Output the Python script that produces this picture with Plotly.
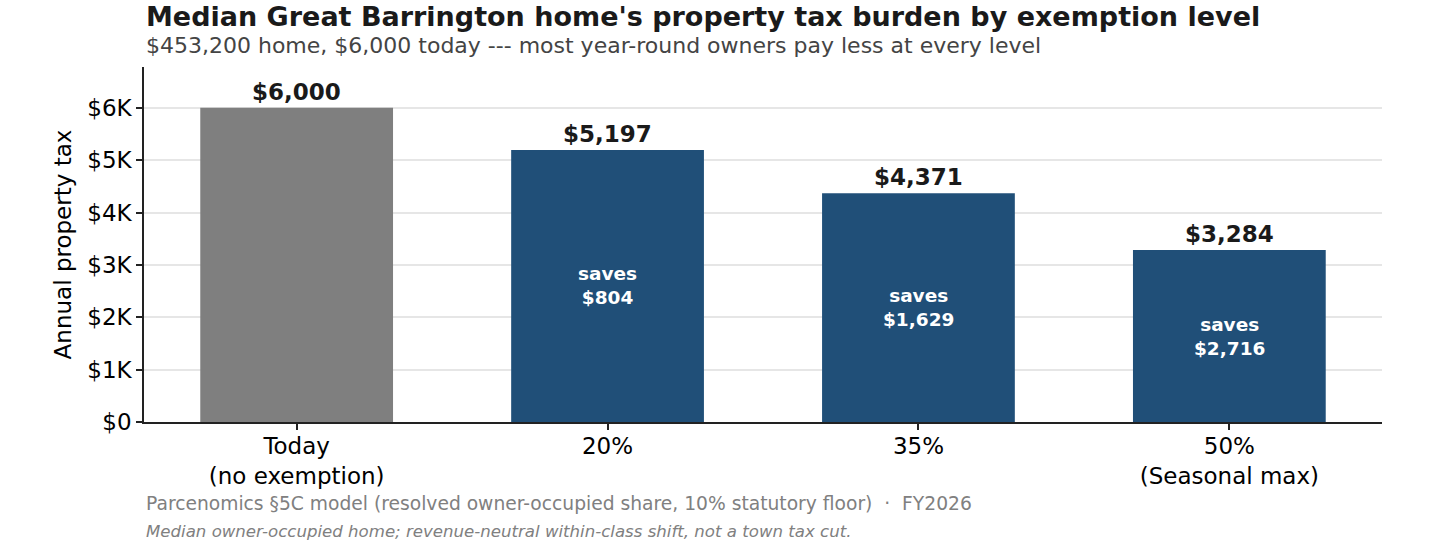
import plotly.graph_objects as go

categories = ["Today<br>(no exemption)", "20%", "35%", "50%<br>(Seasonal max)"]
tax_values = [6000, 5197, 4371, 3284]
value_labels = ["$6,000", "$5,197", "$4,371", "$3,284"]
savings = [None, 804, 1629, 2716]
bar_colors = ["#7f7f7f", "#204f78", "#204f78", "#204f78"]
ytick_vals = [0, 1000, 2000, 3000, 4000, 5000, 6000]
ytick_text = ["$0", "$1K", "$2K", "$3K", "$4K", "$5K", "$6K"]

FONT = "DejaVu Sans"
DARK = "#1a1a1a"

fig = go.Figure()
fig.add_trace(go.Bar(
    x=categories, y=tax_values, marker=dict(color=bar_colors, line=dict(width=0)),
    width=0.62, hoverinfo="skip",
))

annotations = []
for c, v, lab in zip(categories, tax_values, value_labels):
    annotations.append(dict(x=c, y=v, xref="x", yref="y", text="<b>%s</b>" % lab,
                            showarrow=False, yanchor="bottom", yshift=1,
                            font=dict(family=FONT, size=23, color=DARK)))
for c, v, s in zip(categories, tax_values, savings):
    if s is None:
        continue
    annotations.append(dict(x=c, y=v / 2, xref="x", yref="y",
                            text="<b>saves<br>$%s</b>" % format(s, ","),
                            showarrow=False, yanchor="middle",
                            font=dict(family=FONT, size=18.5, color="white")))

annotations += [
    dict(x=0, y=1, xref="paper", yref="paper", xanchor="left", yanchor="middle", yshift=51,
         text="<b>Median Great Barrington home's property tax burden by exemption level</b>",
         showarrow=False, font=dict(family=FONT, size=27, color=DARK)),
    dict(x=0, y=1, xref="paper", yref="paper", xanchor="left", yanchor="middle", yshift=22,
         text="$453,200 home, $6,000 today --- most year-round owners pay less at every level",
         showarrow=False, font=dict(family=FONT, size=22, color="#444444")),
    dict(x=0, y=0, xref="paper", yref="paper", xanchor="left", yanchor="middle", yshift=-81,
         text="Parcenomics §5C model (resolved owner-occupied share, 10% statutory floor)  ·  FY2026",
         showarrow=False, font=dict(family=FONT, size=18.7, color="#808080")),
    dict(x=0, y=0, xref="paper", yref="paper", xanchor="left", yanchor="middle", yshift=-109,
         text="<i>Median owner-occupied home; revenue-neutral within-class shift, not a town tax cut.</i>",
         showarrow=False, font=dict(family=FONT, size=16.6, color="#808080")),
]

fig.update_layout(
    width=1440, height=555,
    margin=dict(l=144, r=58, t=67, b=133),
    paper_bgcolor="white", plot_bgcolor="white",
    showlegend=False,
    font=dict(family=FONT, color=DARK),
    annotations=annotations,
    xaxis=dict(
        type="category", range=[-0.491, 3.491],
        showline=True, linecolor="#222222", linewidth=1.5,
        ticks="outside", ticklen=6, tickwidth=1.5, tickcolor="#222222",
        tickfont=dict(family=FONT, size=23, color="black"),
        ticklabelstandoff=-3,
        showgrid=False, zeroline=False,
    ),
    yaxis=dict(
        range=[0, 6780], tickvals=ytick_vals, ticktext=ytick_text,
        showline=True, linecolor="#222222", linewidth=1.5,
        ticks="outside", ticklen=6, tickwidth=1.5, tickcolor="#222222",
        tickfont=dict(family=FONT, size=23, color="black"),
        showgrid=True, gridcolor="#e6e6e6", gridwidth=1.5, zeroline=False,
        title=dict(text="Annual property tax", standoff=9,
                   font=dict(family=FONT, size=23, color="black")),
    ),
)

fig.write_html("out.html")
